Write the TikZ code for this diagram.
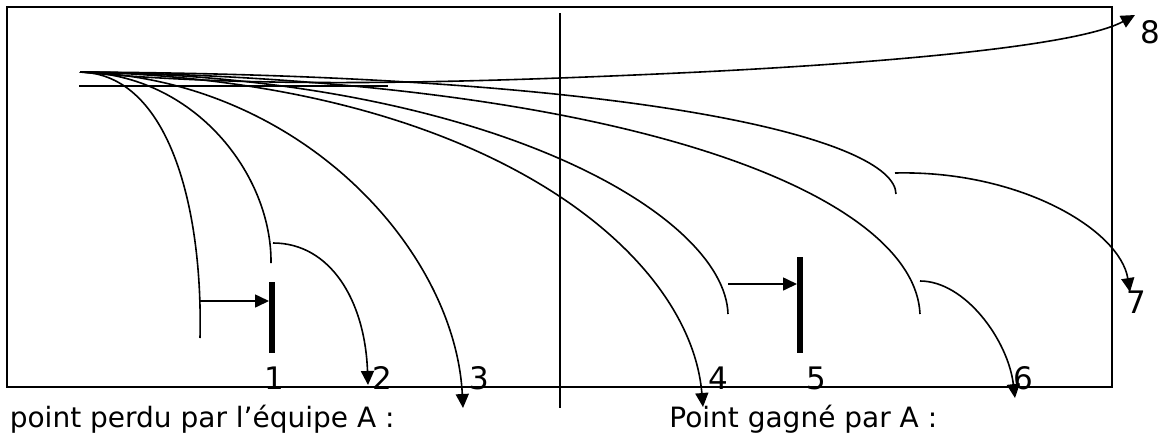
\documentclass[tikz,border=0pt]{standalone}
\usepackage{fontspec}
\setmainfont{DejaVu Sans}
\usetikzlibrary{arrows.meta}
\begin{document}
\begin{tikzpicture}[x=1pt,y=-1pt,line width=1.6pt,
  arr/.style={-{Triangle[length=14pt,width=13pt]}},
  thickbar/.style={line width=6.5pt},
  digit/.style={font=\fontsize{31}{34}\selectfont,inner sep=0pt,anchor=base},
  caption/.style={font=\fontsize{28}{32}\selectfont,inner sep=0pt}]
\useasboundingbox (0,0) rectangle (1163,440);
% frame
\draw (7,7) rectangle (1112,387);
% coordinates
\coordinate (vt) at (560,13);
\coordinate (vb) at (560,408);
\coordinate (h1) at (79,86);
\coordinate (h2) at (388,86);
\coordinate (S) at (80,72);
\coordinate (e1) at (200,338);
\coordinate (e2) at (271,263);
\coordinate (e3) at (463,408);
\coordinate (e4) at (703,407);
\coordinate (eD) at (728,314);
\coordinate (eE) at (920,314);
\coordinate (e7) at (896,194);
\coordinate (m8) at (700,72);
\coordinate (e8) at (1135,15);
\coordinate (b2s) at (273,243);
\coordinate (b2e) at (368,385);
\coordinate (b6s) at (920,281);
\coordinate (b6e) at (1015,398);
\coordinate (b7s) at (895,173);
\coordinate (b7e) at (1130,292);
\coordinate (a1s) at (199,301);
\coordinate (a1e) at (269,301);
\coordinate (bar1t) at (272,282);
\coordinate (bar1b) at (272,353);
\coordinate (a5s) at (728,284);
\coordinate (a5e) at (797,284);
\coordinate (bar5t) at (800,257);
\coordinate (bar5b) at (800,353);
% lines
\draw (vt) -- (vb);
\draw (h1) -- (h2);
% trajectories
\draw (S) .. controls (170,74) and (203,210) .. (e1);
\draw (S) .. controls (195,74) and (272,175) .. (e2);
\draw[arr] (S) .. controls (300,78) and (455,250) .. (e3);
\draw[arr] (S) .. controls (480,80) and (690,250) .. (e4);
\draw (S) .. controls (490,76) and (725,215) .. (eD);
\draw (S) .. controls (650,80) and (915,200) .. (eE);
\draw (S) .. controls (650,75) and (895,140) .. (e7);
\draw[arr] (S) .. controls (250,88) and (450,84) .. (m8) .. controls (900,62) and (1080,45) .. (e8);
% rebounds
\draw[arr] (b2s) .. controls (330,243) and (365,300) .. (b2e);
\draw[arr] (b6s) .. controls (965,281) and (1008,340) .. (b6e);
\draw[arr] (b7s) .. controls (1020,170) and (1120,230) .. (b7e);
% blocks
\draw[arr] (a1s) -- (a1e);
\draw[thickbar] (bar1t) -- (bar1b);
\draw[arr] (a5s) -- (a5e);
\draw[thickbar] (bar5t) -- (bar5b);
% labels
\node[digit] (l1) at (274,389) {1};
\node[digit] (l2) at (382,389) {2};
\node[digit] (l3) at (479,389) {3};
\node[digit] (l4) at (718,389) {4};
\node[digit] (l5) at (816,389) {5};
\node[digit] (l6) at (1023,389) {6};
\node[digit] (l7) at (1136,313) {7};
\node[digit] (l8) at (1150,43) {8};
\node[caption,anchor=base west] (t1) at (9,427) {point perdu par l’équipe A :};
\node[caption,anchor=base east] (t2) at (938,427) {Point gagné par A :};
\end{tikzpicture}
\end{document}
